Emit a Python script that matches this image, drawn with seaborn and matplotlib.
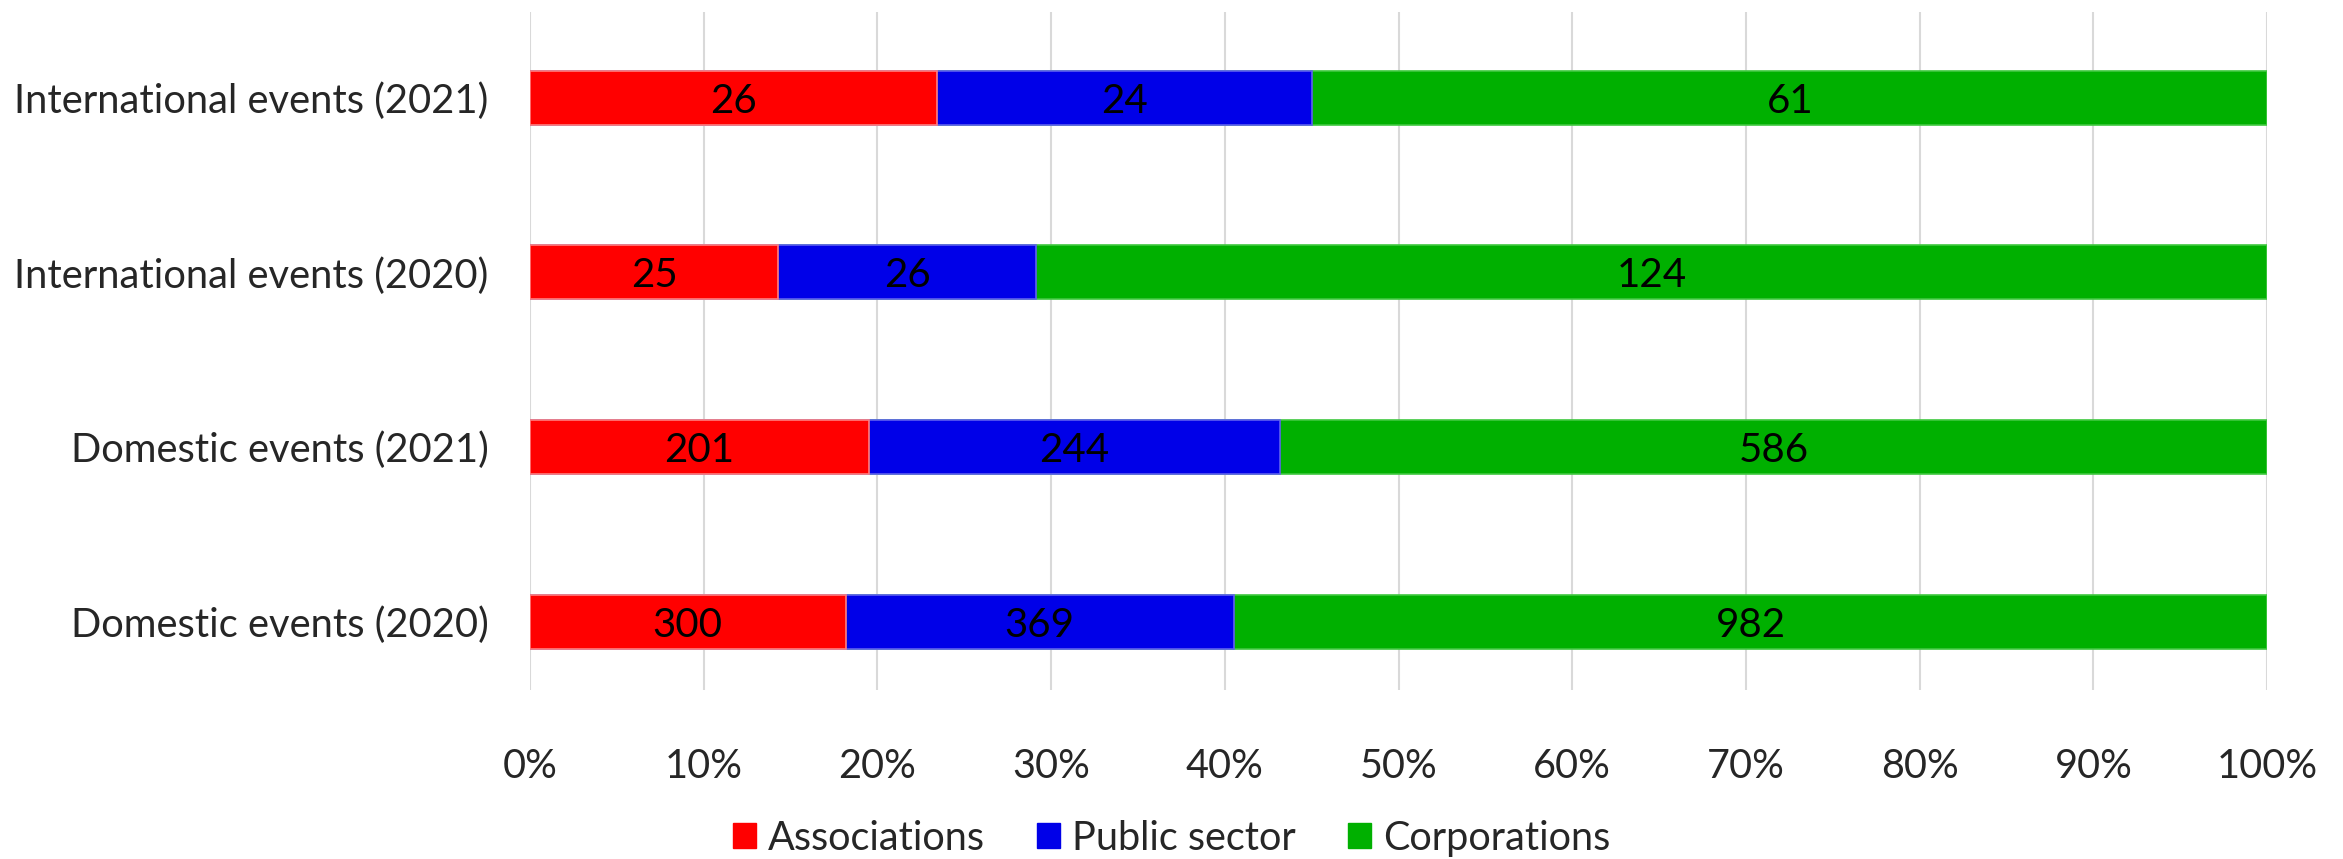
import matplotlib
matplotlib.use("Agg")
import matplotlib.pyplot as plt
import seaborn as sns
import pandas as pd
import numpy as np
from matplotlib.patches import Patch

categories = ["International events (2021)", "International events (2020)",
              "Domestic events (2021)", "Domestic events (2020)"]
series = ["Associations", "Public sector", "Corporations"]
associations = [26, 25, 201, 300]
public_sector = [24, 26, 244, 369]
corporations = [61, 124, 586, 982]
colors = ["#FF0000", "#0000E8", "#00B000"]
edge_colors = ["#FF8080", "#6060F0", "#40C840"]
tick_vals = [0, 10, 20, 30, 40, 50, 60, 70, 80, 90, 100]

sns.set_theme(style="white")
plt.rcParams['font.family'] = ['Lato', 'DejaVu Sans']

vals = np.array([associations, public_sector, corporations], dtype=float)
totals = vals.sum(axis=0)
pct = vals / totals * 100
cum = np.cumsum(pct, axis=0)

fig = plt.figure(figsize=(23.43, 8.59), dpi=100)
ax = fig.add_axes([0.2262, 0.197, 0.7414, 0.789])

for i in reversed(range(3)):
    df = pd.DataFrame({"cat": categories, "val": cum[i]})
    sns.barplot(data=df, x="val", y="cat", orient="h", color=colors[i],
                width=0.31, saturation=1, ax=ax, edgecolor=edge_colors[i],
                linewidth=1.2, zorder=3)

for i in range(3):
    for j in range(len(categories)):
        left = cum[i][j] - pct[i][j]
        ax.text(left + pct[i][j] / 2, j + 0.02, f"{int(vals[i][j])}", ha="center",
                va="center", fontsize=29, color="black", zorder=5)

ax.set_xlim(0, 100)
ax.set_ylim(3.39, -0.49)
ax.set_xticks(tick_vals)
ax.set_xticklabels([f"{v}%" for v in tick_vals], fontsize=28.5)
ax.tick_params(axis="x", pad=42, length=0)
ax.tick_params(axis="y", pad=30, length=0, labelsize=28.7)
ax.set_xlabel("")
ax.set_ylabel("")
ax.grid(axis="x", color="#D9D9D9", linewidth=1.5, zorder=0)
ax.set_axisbelow(True)
for s in ax.spines.values():
    s.set_visible(False)
ax.get_legend() and ax.get_legend().remove()

handles = [Patch(facecolor=c, edgecolor=c) for c in colors]
fig.legend(handles, series, loc="center", bbox_to_anchor=(0.5, 0.024),
           ncol=3, frameon=False, fontsize=28.5, handlelength=0.6,
           handleheight=0.6, handletextpad=0.3, columnspacing=1.3)

fig.savefig("out.png", dpi=100, facecolor="white")
